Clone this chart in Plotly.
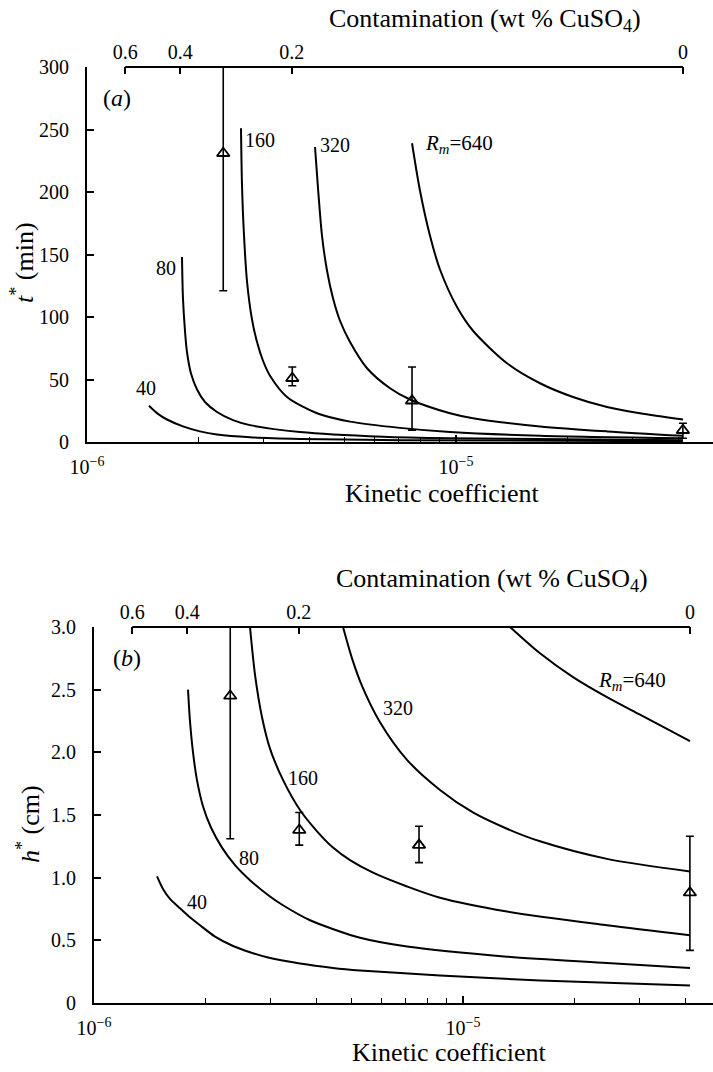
import plotly.graph_objects as go

W, H = 713, 1072
FONT = "Liberation Serif"

# ---------------- data ----------------
# kinetic coefficient of the four experiments
pts_k = [2.34e-6, 3.6e-6, 7.6e-6, 4.12e-5]

# panel (a): t* (min)
a_pts = [231, 51, 33, 9.4]
a_err_plus = [90, 9, 27, 5.6]
a_err_minus = [110, 6, 23.5, 6.4]

a40_k = [1.472e-6, 1.557e-6, 1.647e-6, 1.82e-6, 2.024e-6, 2.251e-6, 2.765e-6, 3.778e-6, 7.051e-6, 4.123e-5]
a40_t = [29, 22.5, 18, 12.5, 8.5, 6, 3.8, 2.5, 1.5, 0.6]

a80_k = [1.809e-6, 1.82e-6, 1.844e-6, 1.866e-6, 1.913e-6, 1.987e-6, 2.088e-6, 2.251e-6, 2.487e-6,
         2.765e-6, 3.778e-6, 6.342e-6, 9.632e-6, 4.123e-5]
a80_t = [148, 115, 88, 72, 55, 42, 32, 24, 17.5, 13.5, 8, 4.2, 3, 1.5]

a160_k = [2.614e-6, 2.631e-6, 2.664e-6, 2.715e-6, 2.8e-6, 2.889e-6, 2.999e-6, 3.133e-6, 3.484e-6,
          4.201e-6, 5.162e-6, 7.051e-6, 9.632e-6, 1.689e-5, 4.123e-5]
a160_t = [251, 205, 165, 128, 98, 80, 65, 53, 36, 23, 16.3, 11.3, 8, 5, 3]

a320_k = [4.149e-6, 4.227e-6, 4.334e-6, 4.472e-6, 4.642e-6, 4.849e-6, 5.162e-6, 5.74e-6, 6.625e-6,
          7.505e-6, 9.632e-6, 1.112e-5, 1.689e-5, 2.566e-5, 4.123e-5]
a320_t = [236, 203, 165, 137, 115, 97, 80, 59, 43, 34, 23, 19, 12.5, 8.5, 5]

a640_k = [7.6e-6, 7.988e-6, 8.502e-6, 9.048e-6, 1.0063e-5, 1.112e-5, 1.375e-5, 1.689e-5, 2.075e-5,
          2.566e-5, 3.152e-5, 4.123e-5]
a640_t = [239, 201, 165, 138, 108, 89, 63, 47, 36, 28, 23, 18]

# panel (b): h* (cm)
b_pts = [2.45, 1.38, 1.26, 0.88]
b_err_plus = [0.7, 0.14, 0.15, 0.45]
b_err_minus = [1.14, 0.12, 0.14, 0.46]

b40_k = [1.482e-6, 1.538e-6, 1.607e-6, 1.689e-6, 1.809e-6, 1.938e-6, 2.128e-6, 2.381e-6, 2.647e-6,
         2.944e-6, 3.616e-6, 4.443e-6, 5.26e-6, 8.663e-6, 1.617e-5, 4.123e-5]
b40_h = [1.01, 0.91, 0.83, 0.77, 0.69, 0.62, 0.53, 0.455, 0.405, 0.365, 0.315, 0.28, 0.26, 0.22, 0.18, 0.14]

b80_k = [1.798e-6, 1.82e-6, 1.855e-6, 1.901e-6, 1.974e-6, 2.075e-6, 2.223e-6, 2.411e-6, 2.647e-6,
         2.999e-6, 3.252e-6, 3.85e-6, 4.443e-6, 5.26e-6, 7.051e-6, 1.316e-5, 2.456e-5, 4.123e-5]
b80_h = [2.50, 2.25, 2.00, 1.78, 1.57, 1.40, 1.24, 1.10, 0.98, 0.85, 0.78, 0.66, 0.59, 0.52, 0.45,
         0.37, 0.32, 0.28]

b160_k = [2.647e-6, 2.731e-6, 2.853e-6, 2.999e-6, 3.252e-6, 3.616e-6, 4.022e-6, 4.443e-6, 4.941e-6,
          5.704e-6, 7.051e-6, 8.663e-6, 1.316e-5, 2.456e-5, 4.123e-5]
b160_h = [3.0, 2.62, 2.28, 2.03, 1.78, 1.54, 1.37, 1.24, 1.14, 1.04, 0.93, 0.84, 0.73, 0.62, 0.54]

b320_k = [4.73e-6, 5.003e-6, 5.325e-6, 5.957e-6, 7.051e-6, 8.663e-6, 1.064e-5, 1.316e-5, 1.617e-5,
          2.456e-5, 4.123e-5]
b320_h = [3.0, 2.75, 2.53, 2.24, 1.94, 1.70, 1.52, 1.39, 1.29, 1.15, 1.05]

b640_k = [1.341e-5, 1.617e-5, 1.987e-5, 2.456e-5, 3.018e-5, 4.123e-5]
b640_h = [3.0, 2.79, 2.60, 2.44, 2.30, 2.09]

# contamination (top) axis
contam_labels = ["0.6", "0.4", "0.2", "0"]
contam_k = [1.27e-6, 1.79e-6, 3.59e-6, 4.12e-5]

# tick labels
a_yticks = [0, 50, 100, 150, 200, 250, 300]
b_yticks = [0, 0.5, 1.0, 1.5, 2.0, 2.5, 3.0]
b_yticktext = ["0", "0.5", "1.0", "1.5", "2.0", "2.5", "3.0"]
major_k = [1e-6, 1e-5]
major_text = ["10<sup>\u22126</sup>", "10<sup>\u22125</sup>"]
minor_k = [2e-6, 3e-6, 4e-6, 5e-6, 6e-6, 7e-6, 8e-6, 9e-6, 2e-5, 3e-5, 4e-5]

# ---------------- figure ----------------
fig = go.Figure()
LW = 2


def add_curve(k, v, xa, ya):
    fig.add_trace(go.Scatter(x=k, y=v, xaxis=xa, yaxis=ya, mode="lines",
                             line=dict(color="black", width=LW, shape="spline", smoothing=0.8),
                             hoverinfo="skip"))


for k, v in [(a40_k, a40_t), (a80_k, a80_t), (a160_k, a160_t), (a320_k, a320_t), (a640_k, a640_t)]:
    add_curve(k, v, "x", "y")
for k, v in [(b40_k, b40_h), (b80_k, b80_h), (b160_k, b160_h), (b320_k, b320_h), (b640_k, b640_h)]:
    add_curve(k, v, "x2", "y2")


def add_points(v, ep, em, xa, ya):
    fig.add_trace(go.Scatter(
        x=pts_k, y=v, xaxis=xa, yaxis=ya, mode="markers",
        marker=dict(symbol="triangle-up-open", size=11, color="black", line=dict(width=1.8, color="black")),
        error_y=dict(type="data", symmetric=False, array=ep, arrayminus=em,
                     color="black", thickness=1.6, width=4),
        hoverinfo="skip"))


add_points(a_pts, a_err_plus, a_err_minus, "x", "y")
add_points(b_pts, b_err_plus, b_err_minus, "x2", "y2")

# invisible traces to carry the contamination axes
fig.add_trace(go.Scatter(x=contam_k, y=[0] * 4, xaxis="x3", yaxis="y", mode="markers",
                         marker=dict(opacity=0), hoverinfo="skip"))
fig.add_trace(go.Scatter(x=contam_k, y=[0] * 4, xaxis="x4", yaxis="y2", mode="markers",
                         marker=dict(opacity=0), hoverinfo="skip"))

tickfont = dict(family=FONT, size=20, color="black")


def xbottom(dom_left, anchor):
    return dict(domain=[dom_left / W, 1], type="log", range=[-6, -6 + (W - dom_left) / 369.0],
                anchor=anchor, automargin=False, showline=True, linecolor="black", linewidth=2,
                ticks="inside", ticklen=7, tickwidth=1.5, tickcolor="black",
                tickmode="array", tickvals=major_k, ticktext=major_text,
                minor=dict(tickmode="array", tickvals=minor_k, ticks="inside", ticklen=5,
                           tickwidth=1.2, tickcolor="black", showgrid=False),
                showgrid=False, zeroline=False, tickfont=tickfont, ticklabelstandoff=6)


def xtop(over, anchor, dom_left):
    return dict(overlaying=over, side="top", type="log", range=[-6, -6 + (W - dom_left) / 369.0],
                anchor=anchor, automargin=False, showline=False, ticks="inside", ticklen=7,
                tickwidth=1.5, tickcolor="black", tickmode="array", tickvals=contam_k,
                ticktext=contam_labels, showgrid=False, zeroline=False, tickfont=tickfont,
                ticklabelstandoff=3)


def yleft(dom, rng, tv, tt, anchor):
    return dict(domain=dom, range=rng, anchor=anchor, automargin=False, showline=True,
                linecolor="black", linewidth=2, ticks="inside", ticklen=7, tickwidth=1.5,
                tickcolor="black", tickmode="array", tickvals=tv, ticktext=tt, showgrid=False,
                zeroline=False, tickfont=tickfont, ticklabelstandoff=12)


fig.update_layout(
    template="none",
    width=W, height=H, margin=dict(l=0, r=0, t=0, b=0, autoexpand=False),
    paper_bgcolor="white", plot_bgcolor="white", showlegend=False,
    font=dict(family=FONT, size=20, color="black"),
    xaxis=xbottom(87, "y"),
    yaxis=yleft([1 - 442 / H, 1 - 67 / H], [0, 300], a_yticks, [str(v) for v in a_yticks], "x"),
    xaxis3=xtop("x", "y", 87),
    xaxis2=xbottom(94, "y2"),
    yaxis2=yleft([1 - 1003 / H, 1 - 627 / H], [0, 3], b_yticks, b_yticktext, "x2"),
    xaxis4=xtop("x2", "y2", 94),
)

# contamination axis lines (span only 0.6 .. 0)
for xr, yr in [("x", "y domain"), ("x2", "y2 domain")]:
    fig.add_shape(type="line", xref=xr, yref=yr, x0=contam_k[0], x1=contam_k[-1], y0=1, y1=1,
                  line=dict(color="black", width=2))


def ann(text, px, py, size=20, angle=0):
    fig.add_annotation(text=text, x=px / W, y=1 - py / H, xref="paper", yref="paper",
                       showarrow=False, xanchor="center", yanchor="middle", textangle=angle,
                       font=dict(family=FONT, size=size, color="black"))


# curve labels
ann("(<i>a</i>)", 117, 98, 24)
ann("40", 146, 388)
ann("80", 166, 268)
ann("160", 260, 140)
ann("320", 335, 145)
ann("<i>R<sub>m</sub></i>=640", 459, 144, 21)
ann("(<i>b</i>)", 127, 658, 24)
ann("160", 303, 778)
ann("80", 249, 858)
ann("40", 197, 902)
ann("320", 398, 708)
ann("<i>R<sub>m</sub></i>=640", 632, 681, 21)

# axis titles
ann("Contamination (wt % CuSO<sub>4</sub>)", 485, 20, 26)
ann("Contamination (wt % CuSO<sub>4</sub>)", 492, 580, 26)
ann("Kinetic coefficient", 442, 494, 26)
ann("Kinetic coefficient", 449, 1052, 26)
ann("<i>t</i><sup>*</sup> (min)", 22, 263, 26, -90)
ann("<i>h</i><sup>*</sup> (cm)", 28, 824, 26, -90)

# remove the browser's default page margin so the figure sits at the window's corner
fig.write_html("out.html", config={"displayModeBar": False},
               post_script="document.body.style.margin='0px';")
